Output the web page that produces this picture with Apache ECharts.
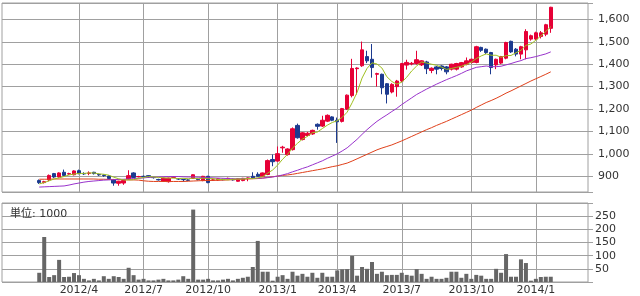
<!DOCTYPE html>
<html><head><meta charset="utf-8">
<script src="https://cdn.jsdelivr.net/npm/echarts@6/dist/echarts.min.js"></script>
<style>html,body{margin:0;padding:0;background:#fff}#c{width:640px;height:296px}</style>
</head><body><div id="c"></div>
<script>
// weekly categories (week start dates)
const weeks = [
 '2012/2/6','2012/2/13','2012/2/20','2012/2/27','2012/3/5','2012/3/12','2012/3/19','2012/3/26',
 '2012/4/2','2012/4/9','2012/4/16','2012/4/23','2012/4/30','2012/5/7','2012/5/14','2012/5/21','2012/5/28',
 '2012/6/4','2012/6/11','2012/6/18','2012/6/25','2012/7/2','2012/7/9','2012/7/16','2012/7/23','2012/7/30',
 '2012/8/6','2012/8/13','2012/8/20','2012/8/27','2012/9/3','2012/9/10','2012/9/17','2012/9/24',
 '2012/10/1','2012/10/8','2012/10/15','2012/10/22','2012/10/29','2012/11/5','2012/11/12','2012/11/19','2012/11/26',
 '2012/12/3','2012/12/10','2012/12/17','2012/12/24','2012/12/31',
 '2013/1/7','2013/1/14','2013/1/21','2013/1/28','2013/2/4','2013/2/11','2013/2/18','2013/2/25',
 '2013/3/4','2013/3/11','2013/3/18','2013/3/25','2013/4/1','2013/4/8','2013/4/15','2013/4/22','2013/4/29',
 '2013/5/6','2013/5/13','2013/5/20','2013/5/27','2013/6/3','2013/6/10','2013/6/17','2013/6/24',
 '2013/7/1','2013/7/8','2013/7/15','2013/7/22','2013/7/29','2013/8/5','2013/8/12','2013/8/19','2013/8/26',
 '2013/9/2','2013/9/9','2013/9/16','2013/9/23','2013/9/30','2013/10/7','2013/10/14','2013/10/21','2013/10/28',
 '2013/11/4','2013/11/11','2013/11/18','2013/11/25','2013/12/2','2013/12/9','2013/12/16','2013/12/23','2013/12/30',
 '2014/1/6','2014/1/13','2014/1/20','2014/1/27'
];
const tickWeeks  = ['2012/4/2','2012/7/2','2012/10/1','2013/1/7','2013/4/1','2013/7/1','2013/10/7','2014/1/6'];
const tickLabels = ['2012/4','2012/7','2012/10','2013/1','2013/4','2013/7','2013/10','2014/1'];

// [open, close, low, high]
const ohlc = [
 [881,872,866,886],[872,876,868,880],[884,904,878,908],[912,897,893,915],[897,915,894,918],
 [918,904,901,930],[910,912,906,916],[907,924,904,927],[925,912,909,930],[912,911,906,918],
 [913,915,905,922],[918,912,908,920],[908,906,902,912],[905,903,898,908],[901,890,886,904],
 [885,870,858,888],[869,878,858,880],[870,881,862,883],[888,903,885,927],[915,895,892,918],
 [898,899,895,902],[900,899,896,903],[903,897,894,905],[895,894,890,897],[886,884,881,889],
 [878,892,875,894],[876,892,872,894],[895,896,892,899],[889,888,884,892],[886,885,876,889],
 [884,882,879,887],[891,907,888,909],[887,885,882,889],[881,900,878,902],[900,872,869,902],
 [883,884,880,887],[884,889,880,892],[886,885,882,889],[890,891,887,894],[887,884,881,889],
 [878,889,876,891],[881,891,878,893],[890,893,878,895],[900,891,888,918],[909,900,898,918],
 [900,915,897,917],[908,970,905,975],[975,965,945,997],[968,1001,965,1033],[1027,1030,1005,1036],
 [997,1022,992,1025],[1019,1112,1015,1118],[1127,1072,1068,1135],[1064,1094,1060,1097],[1082,1092,1078,1098],
 [1089,1105,1085,1108],[1132,1123,1108,1136],[1124,1150,1120,1170],[1146,1172,1142,1176],[1165,1150,1146,1168],
 [1150,1143,1049,1162],[1145,1202,1140,1205],[1200,1262,1196,1265],[1260,1381,1252,1424],[1380,1383,1265,1386],
 [1393,1464,1388,1501],[1434,1415,1405,1460],[1422,1385,1340,1490],[1355,1358,1300,1362],[1355,1295,1266,1358],
 [1313,1266,1225,1316],[1276,1310,1270,1315],[1300,1325,1255,1330],[1325,1403,1320,1406],[1396,1408,1376,1420],
 [1401,1404,1395,1410],[1403,1420,1398,1460],[1397,1415,1392,1418],[1410,1380,1356,1415],[1372,1382,1360,1386],
 [1388,1378,1355,1392],[1392,1381,1372,1395],[1388,1366,1355,1392],[1378,1400,1372,1402],[1378,1403,1372,1406],
 [1388,1407,1384,1410],[1400,1415,1395,1430],[1408,1422,1403,1425],[1408,1478,1404,1482],[1475,1462,1455,1478],
 [1467,1452,1445,1470],[1452,1385,1355,1455],[1397,1422,1378,1425],[1405,1434,1400,1437],[1427,1497,1422,1500],
 [1502,1455,1450,1505],[1467,1445,1435,1472],[1445,1478,1422,1482],[1464,1546,1422,1556],[1512,1527,1505,1532],
 [1512,1540,1508,1545],[1524,1540,1515,1548],[1534,1576,1525,1580],[1560,1654,1540,1656]
];

const maShort = [
 866,872,880,888,
 893,899,906,910,913,913,915,915,911,909,
 905,896,889,884,884,885,891,895,899,897,
 895,893,892,892,890,891,889,892,889,892,
 889,890,886,886,884,887,888,888,890,890,
 893,898,914,928,950,976,998,1026,1047,1066,
 1078,1095,1097,1113,1128,1140,1148,1163,1186,1228,
 1274,1338,1381,1406,1401,1383,1344,1323,1311,1320,
 1342,1370,1392,1410,1405,1400,1395,1387,1377,1381,
 1386,1391,1398,1409,1425,1437,1446,1440,1440,1431,
 1438,1439,1451,1462,1484,1490,1507,1526,1546,1567
];
const maMid = [
 852,853,854,855,856,857,861,866,870,874,877,879,881,883,884,885,886,887,888,890,891,893,895,896,897,
 898,899,899,899,898,897,897,896,895,894,
 893,892,891,890,889,889,890,891,891,891,
 892,894,897,901,906,912,920,927,935,942,
 951,960,969,980,990,1000,1013,1027,1046,1065,
 1087,1108,1127,1145,1160,1174,1189,1203,1220,1235,
 1250,1265,1277,1289,1300,1311,1321,1331,1340,1349,
 1359,1370,1378,1386,1389,1392,1389,1389,1391,1397,
 1403,1410,1416,1425,1429,1434,1440,1446,1455
];
const maLong = [
 887,887,887,888,888,888,888,888,888,888,
 888,888,887,887,886,886,885,885,884,884,
 883,880,878,877,877,877,877,877,877,877,
 878,879,880,881,881,882,882,883,884,885,
 886,887,888,889,890,892,895,898,901,904,906,
 909,913,917,921,925,929,933,938,943,947,
 953,959,968,978,988,998,1008,1018,1026,1033,
 1040,1049,1058,1068,1078,1088,1098,1108,1117,1127,
 1136,1145,1155,1165,1175,1185,1195,1207,1218,1229,
 1238,1248,1259,1271,1281,1292,1303,1314,1325,1335,
 1345,1355,1366
];
const volume = [
 35,171,19,26,84,19,20,34,26,12,
 6,12,6,22,12,22,19,12,54,26,
 9,12,6,6,9,12,6,6,9,22,
 12,275,9,9,12,6,6,9,12,6,
 12,16,20,57,156,39,39,5,20,26,
 12,39,24,31,20,35,16,35,20,20,
 44,48,49,99,24,57,50,76,31,39,
 26,27,27,35,27,24,49,31,12,20,
 12,12,16,39,39,16,31,12,27,24,
 12,12,50,35,106,20,20,86,72,5,
 12,19,20,20
];
const volumeUnit = '単位: 1000';

const PAD = 7;
const cats = [];
for (let k = 0; k < PAD; k++) cats.push('pre' + k);
weeks.forEach(w => cats.push(w));
for (let k = 0; k < PAD; k++) cats.push('post' + k);

const GRID = '#a0a0a0';
const FONT = '"DejaVu Sans", "Noto Sans CJK JP", sans-serif';
const isTick = (idx, val) => tickWeeks.indexOf(val) >= 0;
const comma = v => String(v).replace(/\B(?=(\d{3})+(?!\d))/g, ',');

const chart = echarts.init(document.getElementById('c'), null, {renderer: 'canvas'});
chart.setOption({
  animation: false,
  backgroundColor: '#fff',
  title: {text: volumeUnit, left: 5, top: 204, textStyle: {fontSize: 11, fontWeight: 'normal', color: '#333', fontFamily: FONT}},
  grid: [
    {left: 2, right: 52, top: 3, height: 189, show: true, borderColor: GRID, borderWidth: 1},
    {left: 2, right: 52, top: 203, height: 79, show: true, borderColor: GRID, borderWidth: 1}
  ],
  xAxis: [
    {type: 'category', gridIndex: 0, data: cats, boundaryGap: true,
     axisLine: {show: false}, axisTick: {show: false}, axisLabel: {show: false},
     splitLine: {show: true, interval: isTick, alignWithLabel: true, lineStyle: {color: GRID, width: 1}}},
    {type: 'category', gridIndex: 1, data: cats, boundaryGap: true,
     axisLine: {show: false}, axisTick: {show: false},
     axisLabel: {show: true, interval: isTick, margin: 3, formatter: v => tickLabels[tickWeeks.indexOf(v)] || '',
                 fontSize: 11, color: '#333', fontFamily: FONT},
     splitLine: {show: true, interval: isTick, alignWithLabel: true, lineStyle: {color: GRID, width: 1}}}
  ],
  yAxis: [
    {type: 'value', gridIndex: 0, position: 'right', min: 830, max: 1673, splitNumber: 8,
     axisLine: {show: false}, axisTick: {show: true, length: 5, lineStyle: {color: GRID}},
     axisLabel: {margin: 10, fontSize: 11, color: '#333', fontFamily: FONT,
                 formatter: v => (v % 100 === 0 ? comma(v) : '')},
     splitLine: {show: true, lineStyle: {color: GRID, width: 1}}},
    {type: 'value', gridIndex: 1, position: 'right', min: 0, max: 300, interval: 50,
     axisLine: {show: false}, axisTick: {show: true, length: 5, lineStyle: {color: GRID}},
     axisLabel: {margin: 7, fontSize: 11, color: '#333', fontFamily: FONT,
                 formatter: v => (v === 0 || v === 300 ? '' : String(v))},
     splitLine: {show: true, lineStyle: {color: GRID, width: 1}}}
  ],
  series: [
    {type: 'candlestick', xAxisIndex: 0, yAxisIndex: 0, barWidth: 4,
     data: ohlc.map((d, i) => [i + PAD, d[0], d[1], d[2], d[3]]),
     encode: {x: 0, y: [1, 2, 3, 4]},
     itemStyle: {color: '#e60036', color0: '#1c3a8f', borderColor: '#e60036', borderColor0: '#1c3a8f', borderWidth: 1}},
    {type: 'line', xAxisIndex: 0, yAxisIndex: 0, data: maLong.map((v, i) => [i + PAD, v]),
     showSymbol: false, symbol: 'none', lineStyle: {width: 1, color: '#e0401a'}, z: 3},
    {type: 'line', xAxisIndex: 0, yAxisIndex: 0, data: maMid.map((v, i) => [i + PAD, v]),
     showSymbol: false, symbol: 'none', lineStyle: {width: 1, color: '#9933cc'}, z: 3},
    {type: 'line', xAxisIndex: 0, yAxisIndex: 0, data: maShort.map((v, i) => [i + PAD, v]),
     showSymbol: false, symbol: 'none', lineStyle: {width: 1, color: '#a0c020'}, z: 3},
    {type: 'bar', xAxisIndex: 1, yAxisIndex: 1, barWidth: 4,
     data: volume.map((v, i) => [i + PAD, v]), itemStyle: {color: '#666666'}}
  ]
});
</script></body></html>
